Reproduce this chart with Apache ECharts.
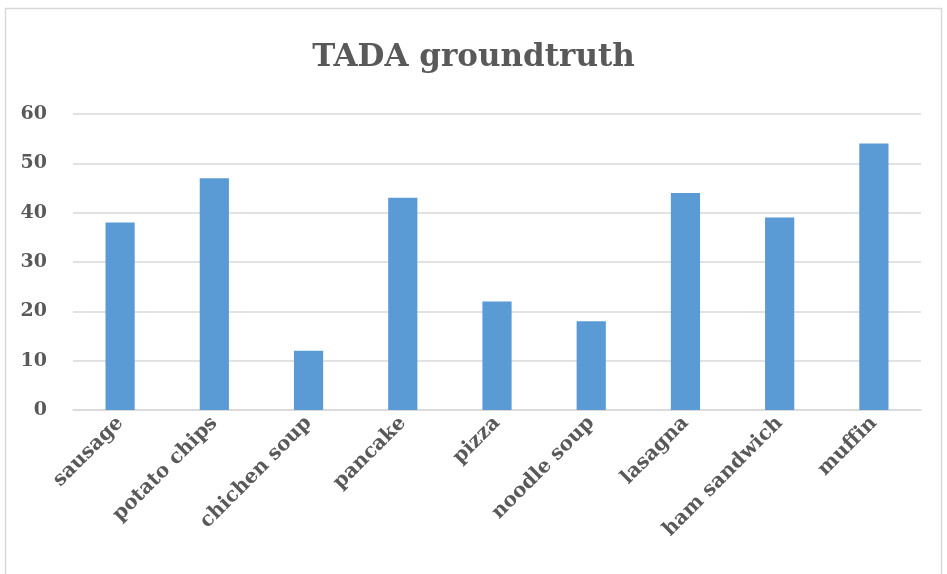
<!DOCTYPE html>
<html><head><meta charset="utf-8">
<script src="https://cdn.jsdelivr.net/npm/echarts@6/dist/echarts.min.js"></script>
<style>html,body{margin:0;padding:0;background:#fff}#c{width:947px;height:574px}</style>
</head><body><div id="c"></div>
<script>
var categories = ['sausage','potato chips','chichen soup','pancake','pizza','noodle soup','lasagna','ham sandwich','muffin'];
var values = [38,47,12,43,22,18,44,39,54];
var yTicks = {min:0, max:60, interval:10};
var titleText = 'TADA groundtruth';

var chart = echarts.init(document.getElementById('c'), null, {renderer:'canvas'});
var serif = '"DejaVu Serif", "Liberation Serif", serif';
chart.setOption({
  animation:false,
  backgroundColor:'#fff',
  graphic:[{type:'rect', shape:{x:5.5,y:8.5,width:936,height:580}, style:{fill:'none', stroke:'#d9d9d9', lineWidth:1.5}, silent:true}],
  title:{text:titleText, left:'center', top:37, textStyle:{fontFamily:serif, fontWeight:'bold', fontSize:31, color:'#595959'}},
  grid:{left:73, right:26, top:114, bottom:164, containLabel:false},
  xAxis:{type:'category', data:categories,
    axisLine:{lineStyle:{color:'#d9d9d9', width:1.5}}, axisTick:{show:false},
    axisLabel:{rotate:45, interval:0, margin:10, fontFamily:serif, fontWeight:'bold', fontSize:20, color:'#595959'}},
  yAxis:{type:'value', min:yTicks.min, max:yTicks.max, interval:yTicks.interval,
    axisLine:{show:false}, axisTick:{show:false},
    splitLine:{lineStyle:{color:'#d9d9d9', width:1.5}},
    axisLabel:{margin:26, fontFamily:serif, fontWeight:'bold', fontSize:19, color:'#595959'}},
  series:[{type:'bar', data:values, barWidth:'31%', itemStyle:{color:'#5b9bd5'}}]
});
</script></body></html>
